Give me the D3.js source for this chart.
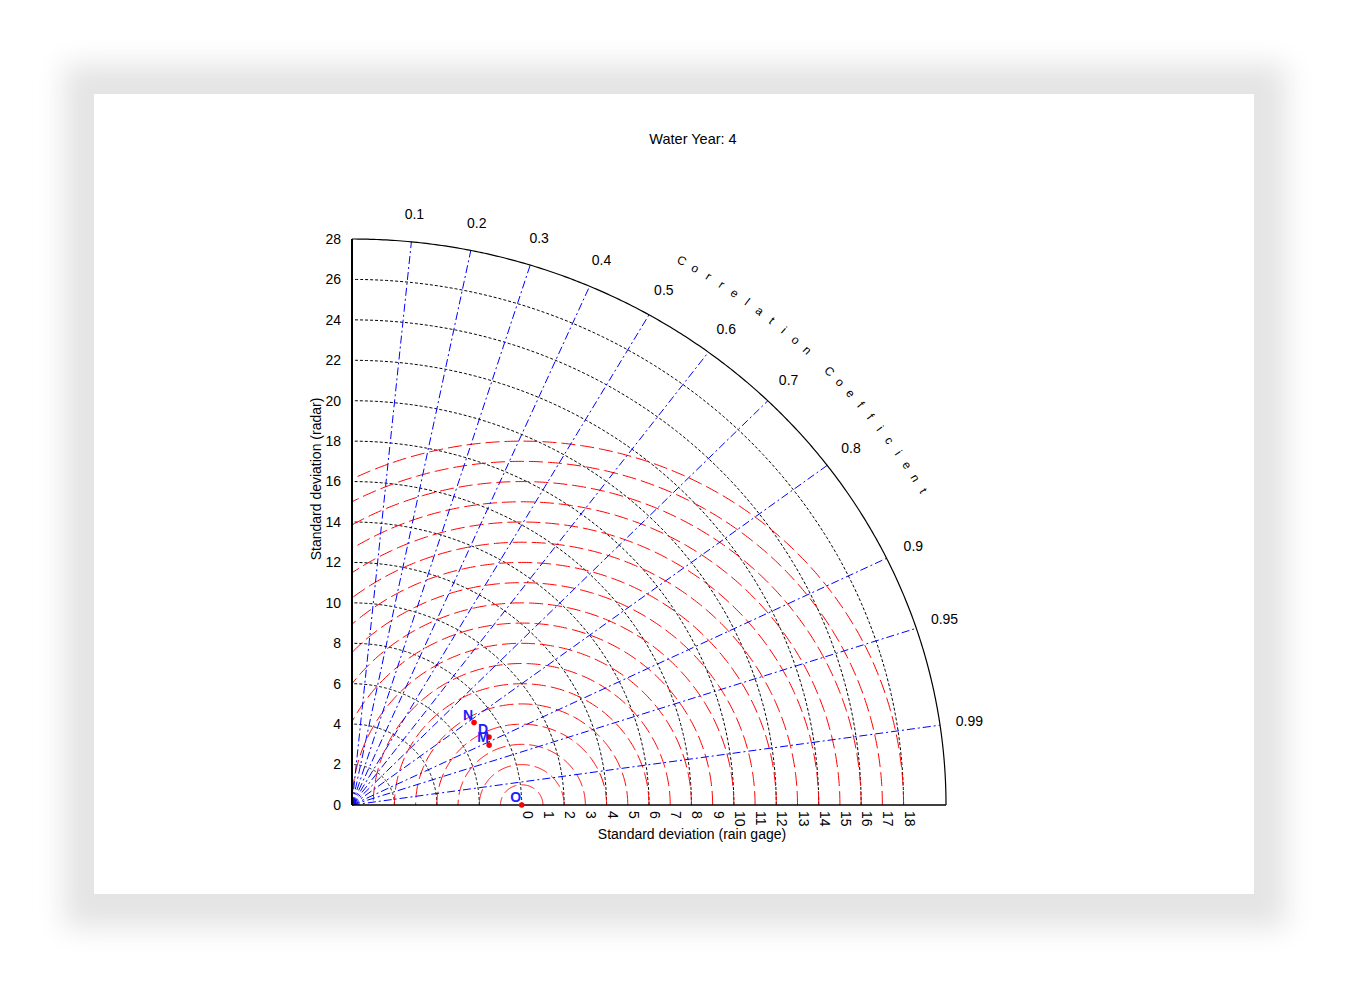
<!DOCTYPE html>
<html>
<head>
<meta charset="utf-8">
<script src="https://cdn.jsdelivr.net/npm/d3@7"></script>
<style>
  html, body { margin: 0; padding: 0; background: #ffffff; }
  svg { display: block; }
  text { font-family: "Liberation Sans", Arial, sans-serif; }
</style>
</head>
<body>
<script>
// ---------------- data ----------------
const chartTitle = "Water Year: 4";
const stdTicks = [0, 2, 4, 6, 8, 10, 12, 14, 16, 18, 20, 22, 24, 26, 28];
const corrTicks = [0.1, 0.2, 0.3, 0.4, 0.5, 0.6, 0.7, 0.8, 0.9, 0.95, 0.99];
const rmsTicks = [0, 1, 2, 3, 4, 5, 6, 7, 8, 9, 10, 11, 12, 13, 14, 15, 16, 17, 18];
const refName = "O";
const refStd = 8;
const modelNames = ["N", "D", "M"];
const modelStd = [7.05, 7.28, 7.11];
const modelCorr = [0.816, 0.887, 0.909];
const maxStd = 28;

// ---------------- layout ----------------
const W = 1348, H = 988;
const svg = d3.select("body").append("svg").attr("width", W).attr("height", H);

// shadow frame
const defs = svg.append("defs");
defs.append("filter").attr("id", "blur").attr("x", "-10%").attr("y", "-10%").attr("width", "120%").attr("height", "120%")
  .append("feGaussianBlur").attr("stdDeviation", 14);
svg.append("rect").attr("x", 64).attr("y", 64).attr("width", 1222).attr("height", 864)
  .attr("fill", "#e4e4e4").attr("filter", "url(#blur)");
svg.append("rect").attr("x", 94).attr("y", 94).attr("width", 1160).attr("height", 800).attr("fill", "#ffffff");

const x = d3.scaleLinear().domain([0, maxStd]).range([352, 946]);
const y = d3.scaleLinear().domain([0, maxStd]).range([805, 239]);

const line = d3.line().x(d => x(d[0])).y(d => y(d[1]));
function arcPts(cx, r, t0, t1, n) {
  const pts = [];
  for (let i = 0; i <= n; i++) {
    const t = t0 + (t1 - t0) * i / n;
    pts.push([cx + r * Math.cos(t), r * Math.sin(t)]);
  }
  return pts;
}

const g = svg.append("g");

// std dev dotted arcs
g.selectAll(".stdarc").data(stdTicks.filter(s => s > 0 && s < maxStd)).enter().append("path")
  .attr("d", s => line(arcPts(0, s, 0, Math.PI / 2, 200)))
  .attr("fill", "none").attr("stroke", "#000").attr("stroke-width", 1)
  .attr("stroke-dasharray", "3,2");

// RMS red arcs centred on reference
g.selectAll(".rmsarc").data(rmsTicks.filter(r => r > 0)).enter().append("path")
  .attr("d", r => {
    const tmax = r <= refStd ? Math.PI : Math.acos(-refStd / r);
    return line(arcPts(refStd, r, 0, tmax, 240));
  })
  .attr("fill", "none").attr("stroke", "#ff0000").attr("stroke-width", 1)
  .attr("stroke-dasharray", "14,5");

// correlation blue dash-dot lines
g.selectAll(".corr").data(corrTicks).enter().append("path")
  .attr("d", c => line([[0, 0], [maxStd * c, maxStd * Math.sqrt(1 - c * c)]]))
  .attr("fill", "none").attr("stroke", "#0000ff").attr("stroke-width", 1)
  .attr("stroke-dasharray", "8,3,2,3");

// outer arc
g.append("path").attr("d", line(arcPts(0, maxStd, 0, Math.PI / 2, 300)))
  .attr("fill", "none").attr("stroke", "#000").attr("stroke-width", 1.2);
// axes
g.append("line").attr("x1", x(0)).attr("x2", x(0)).attr("y1", y(0)).attr("y2", y(maxStd))
  .attr("stroke", "#000").attr("stroke-width", 2);
g.append("line").attr("x1", x(0)).attr("x2", x(maxStd)).attr("y1", y(0)).attr("y2", y(0))
  .attr("stroke", "#000").attr("stroke-width", 1.3);

// y tick labels
g.selectAll(".ylab").data(stdTicks).enter().append("text")
  .attr("x", 341).attr("y", s => y(s)).attr("dy", "0.35em")
  .attr("text-anchor", "end").attr("font-size", 14).attr("fill", "#000").text(s => s);

// rms labels along x axis (rotated)
g.selectAll(".xlab").data(rmsTicks).enter().append("text")
  .attr("transform", r => `translate(${x(refStd + r) + 1},${811}) rotate(90)`)
  .attr("text-anchor", "start").attr("font-size", 14).attr("fill", "#000").text(r => r);

// correlation labels
g.selectAll(".clab").data(corrTicks).enter().append("text")
  .attr("x", c => x(29.4 * c)).attr("y", c => y(29.4 * Math.sqrt(1 - c * c)))
  .attr("dy", "0.35em").attr("text-anchor", "middle").attr("font-size", 14).attr("fill", "#000")
  .text(c => c);

// "Correlation Coefficient" along arc
const arcTitle = "Correlation Coefficient".split("");
const a0 = 60, a1 = 30;
arcTitle.forEach((ch, i) => {
  const a = (a0 + (a1 - a0) * i / (arcTitle.length - 1)) * Math.PI / 180;
  const px = x(31.1 * Math.cos(a)), py = y(31.1 * Math.sin(a));
  g.append("text").attr("transform", `translate(${px},${py}) rotate(${90 - a * 180 / Math.PI})`)
    .attr("text-anchor", "middle").attr("dy", "0.35em").attr("font-size", 12).attr("fill", "#000").text(ch);
});

// titles
svg.append("text").attr("x", 693).attr("y", 144).attr("text-anchor", "middle")
  .attr("font-size", 14.5).attr("fill", "#000").text(chartTitle);
svg.append("text").attr("x", 692).attr("y", 839).attr("text-anchor", "middle")
  .attr("font-size", 14).attr("fill", "#000").text("Standard deviation (rain gage)");
svg.append("text").attr("transform", "translate(321,479) rotate(-90)").attr("text-anchor", "middle")
  .attr("font-size", 14).attr("fill", "#000").text("Standard deviation (radar)");

// points
const pts = [{ name: refName, std: refStd, corr: 1 }]
  .concat(modelNames.map((n, i) => ({ name: n, std: modelStd[i], corr: modelCorr[i] })));
g.selectAll(".pt").data(pts).enter().append("circle")
  .attr("cx", d => x(d.std * d.corr)).attr("cy", d => y(d.std * Math.sqrt(1 - d.corr * d.corr)))
  .attr("r", 2.8).attr("fill", "#ff0000");
g.selectAll(".ptlab").data(pts).enter().append("text")
  .attr("x", d => x(d.std * d.corr) - 6).attr("y", d => y(d.std * Math.sqrt(1 - d.corr * d.corr)) - 3)
  .attr("text-anchor", "middle").attr("font-size", 14).attr("font-weight", "bold").attr("fill", "#2020ff")
  .text(d => d.name);
</script>
</body>
</html>
